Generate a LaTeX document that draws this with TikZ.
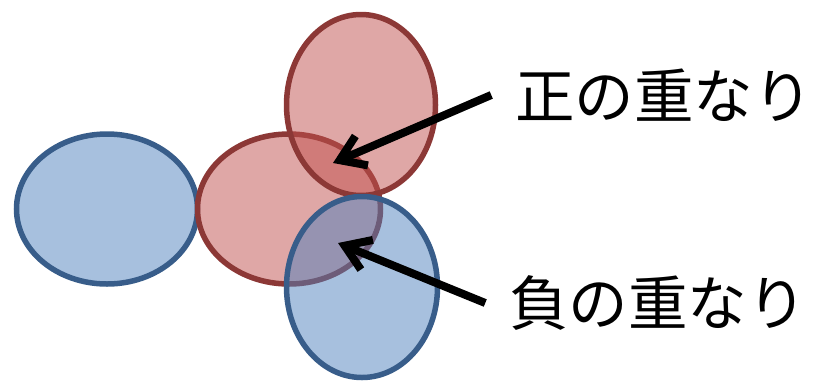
\documentclass[tikz,border=0pt]{standalone}
\usepackage{fontspec}
\usepackage{tikz}
\usetikzlibrary{arrows.meta, shapes.geometric}
\newfontfamily\jpfont{Noto Sans CJK JP}
\definecolor{bluefill}{HTML}{4F81BD}
\definecolor{blueline}{HTML}{385D8A}
\definecolor{redfill}{HTML}{C0504D}
\definecolor{redline}{HTML}{8C3836}

\begin{document}
\begin{tikzpicture}[x=1pt, y=-1pt,
    blueorb/.style={ellipse, inner sep=0pt, draw=blueline, line width=5.5pt, fill=bluefill, fill opacity=0.5},
    redorb/.style={ellipse, inner sep=0pt, draw=redline, line width=5.5pt, fill=redfill, fill opacity=0.5},
    lbl/.style={font=\jpfont\fontsize{59.5}{62}\selectfont, inner sep=0pt, outer sep=24pt},
    ptr/.style={-{Straight Barb[length=24pt,width=32pt]}, line width=8pt}]
    \useasboundingbox (0,0) rectangle (813,381);
    \node[blueorb, minimum width=181pt, minimum height=150pt] (lb) at (107,209) {};
    \node[redorb, minimum width=183pt, minimum height=150pt] (mr) at (289,209) {};
    \node[redorb, minimum width=149pt, minimum height=181pt] (tr) at (361,105) {};
    \node[blueorb, minimum width=151pt, minimum height=181pt] (bb) at (362,287) {};
    \coordinate (posin) at (333,163);
    \coordinate (negin) at (338,243);
    \node[lbl] (pos) at (664,95) {正の重なり};
    \node[lbl] (neg) at (658,303) {負の重なり};
    \draw[ptr] (pos.west) -- (posin);
    \draw[ptr] (neg.west) -- (negin);
\end{tikzpicture}
\end{document}
